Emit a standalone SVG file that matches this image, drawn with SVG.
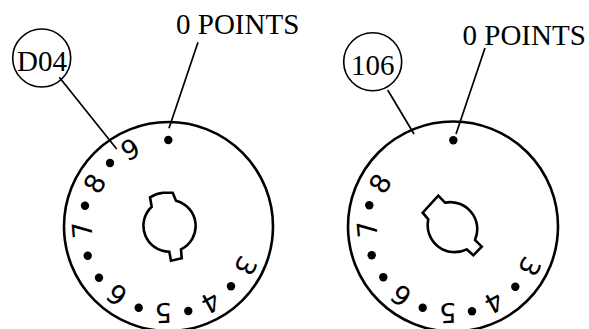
<svg xmlns="http://www.w3.org/2000/svg" width="589" height="329" viewBox="0 0 589 329">
<style>
.o{fill:none;stroke:#000;stroke-width:2.6}
.b{fill:none;stroke:#000;stroke-width:1.6}
.l{fill:none;stroke:#000;stroke-width:1.7}
.s{font-family:"Liberation Serif",serif;font-size:29px;fill:#000}
.d{font-family:"DejaVu Sans",sans-serif;font-size:27px;fill:#000;text-anchor:middle}
.p{fill:#000}
</style>
<rect width="589" height="329" fill="#fff"/>
<g id="disc-left">
<circle class="o" cx="168.5" cy="226.5" r="104.5"/>
<path class="o" d="M176 200.7L172.7 192.7L163.3 192.7Q156 193.5 150 197.3L151.7 206.7A26 26 0 0 0 169.3 251.7L171 260.7L181.7 258.3L181 249.3A26 26 0 0 0 176 200.7Z"/>
<g class="p"><circle cx="168.3" cy="140" r="4.2"/><circle cx="110" cy="163" r="4.2"/><circle cx="85" cy="205.7" r="4.2"/><circle cx="87.7" cy="255.7" r="4.2"/><circle cx="99" cy="277.7" r="4.2"/><circle cx="138.7" cy="307.7" r="4.2"/><circle cx="188.3" cy="311" r="4.2"/><circle cx="231" cy="286.3" r="4.2"/></g>
<text class="d" x="130" y="159.3" transform="rotate(-27 130 149.3)">9</text>
<text class="d" x="94.3" y="193.3" transform="rotate(-60 94.3 183.3)">8</text>
<text class="d" x="81.7" y="240" transform="rotate(-95 81.7 230)">7</text>
<text class="d" x="116.7" y="305" transform="rotate(-143 116.7 295)">6</text>
<text class="d" x="163.3" y="323.3" transform="rotate(178 163.3 313.3)">5</text>
<text class="d" x="210.7" y="312.7" transform="rotate(151 210.7 302.7)">4</text>
<text class="d" x="246" y="276" transform="rotate(117 246 266)">3</text>
</g>
<g id="disc-right">
<circle class="o" cx="453" cy="226.5" r="105"/>
<path class="o" d="M445 202.7L438.3 195.7L422.7 212.7L428.3 219.3A27 27 0 0 0 466.7 249.3L473.3 255.3L481.7 246.7L475 240A27 27 0 0 0 445 202.7Z"/>
<g class="p"><circle cx="453.3" cy="140.3" r="4.2"/><circle cx="369.3" cy="205.3" r="4.2"/><circle cx="371.7" cy="255.3" r="4.2"/><circle cx="383.3" cy="277.3" r="4.2"/><circle cx="422.7" cy="307.7" r="4.2"/><circle cx="472" cy="311.3" r="4.2"/><circle cx="515.3" cy="286.7" r="4.2"/></g>
<text class="d" x="380" y="193.3" transform="rotate(-60 380 183.3)">8</text>
<text class="d" x="366.7" y="239.3" transform="rotate(-95 366.7 229.3)">7</text>
<text class="d" x="401" y="305.7" transform="rotate(-143 401 295.7)">6</text>
<text class="d" x="447.7" y="323.3" transform="rotate(178 447.7 313.3)">5</text>
<text class="d" x="494" y="312.7" transform="rotate(151 494 302.7)">4</text>
<text class="d" x="530" y="276.7" transform="rotate(117 530 266.7)">3</text>
</g>
<g id="connectors">
<line class="l" x1="59.3" y1="77.3" x2="116.7" y2="149"/>
<line class="l" x1="198" y1="42.3" x2="169" y2="128.3"/>
<line class="l" x1="387.7" y1="90" x2="414" y2="134"/>
<line class="l" x1="485" y1="48" x2="456" y2="134"/>
</g>
<g id="label-d04"><circle class="b" cx="41.7" cy="58" r="29"/><text class="s" x="17" y="70.7">D04</text></g>
<g id="label-106"><circle class="b" cx="372.7" cy="61.7" r="29"/><text class="s" x="351" y="75.3">106</text></g>
<g id="label-points-left"><text class="s" x="176" y="34">0 POINTS</text></g>
<g id="label-points-right"><text class="s" x="462.5" y="44.7">0 POINTS</text></g>
</svg>
